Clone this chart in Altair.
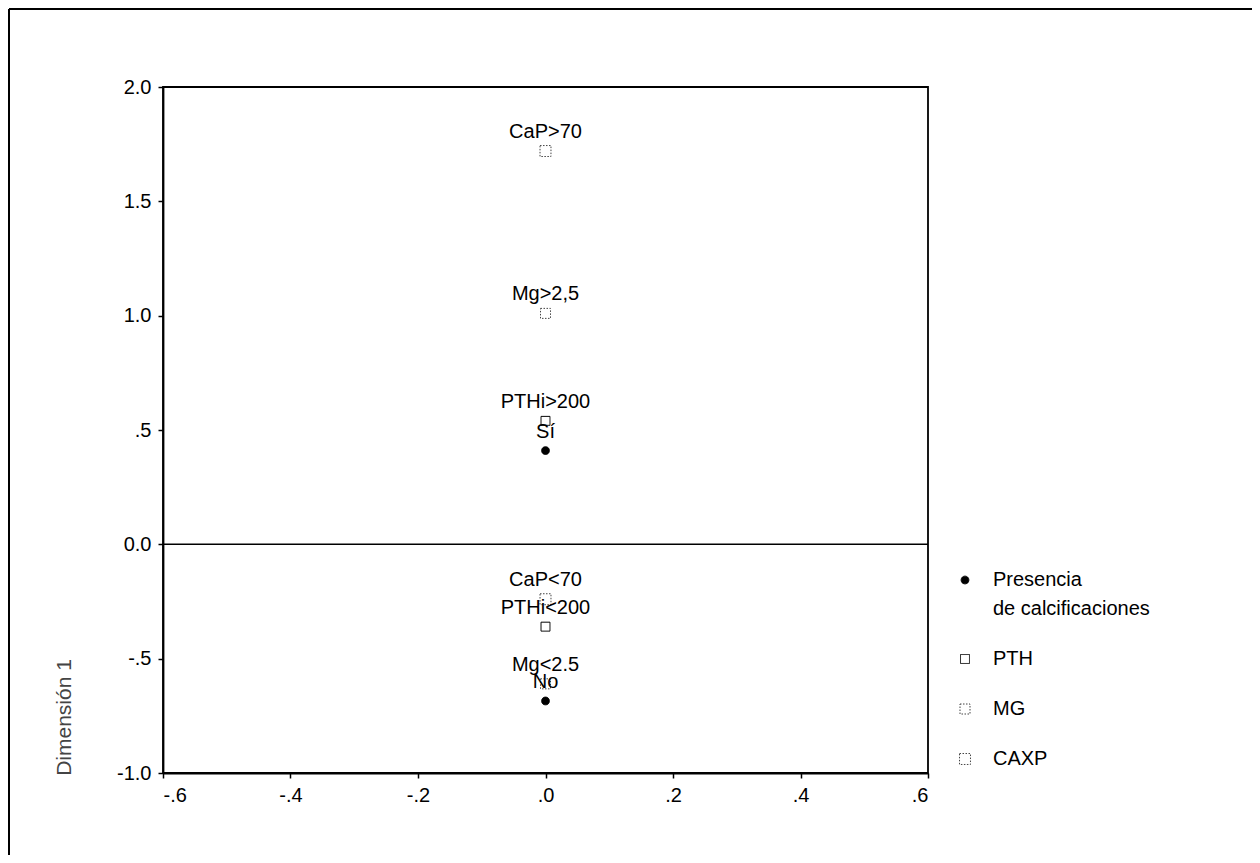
import altair as alt
import pandas as pd

# Data
labels = ["CaP>70", "Mg>2,5", "PTHi>200", "Sí", "CaP<70", "PTHi<200", "Mg<2.5", "No"]
groups = ["CAXP", "MG", "PTH", "Presencia de calcificaciones",
          "CAXP", "PTH", "MG", "Presencia de calcificaciones"]
dim2 = [0.0, 0.0, 0.0, 0.0, 0.0, 0.0, 0.0, 0.0]
dim1 = [1.72, 1.01, 0.54, 0.41, -0.24, -0.36, -0.61, -0.685]

group_order = ["Presencia de calcificaciones", "PTH", "MG", "CAXP"]
x_ticks = [-0.6, -0.4, -0.2, 0.0, 0.2, 0.4, 0.6]
y_ticks = [-1.0, -0.5, 0.0, 0.5, 1.0, 1.5, 2.0]

df = pd.DataFrame({"label": labels, "grupo": groups, "dim2": dim2, "dim1": dim1})

FONT = "Liberation Sans"
FS = 20

xenc = alt.X("dim2:Q",
             scale=alt.Scale(domain=[-0.6, 0.6], nice=False, zero=False),
             axis=alt.Axis(values=x_ticks, title=None, grid=False,
                           labelExpr="replace(replace(format(datum.value, '.1f'), '0.', '.'), '\u2212', '-')"))
yenc = alt.Y("dim1:Q",
             scale=alt.Scale(domain=[-1.0, 2.0], nice=False, zero=False),
             axis=alt.Axis(values=y_ticks, title="Dimensión 1", grid=False,
                           titleX=-89, titleY=630, titleAngle=270,
                           titleFontWeight="normal", titleFontSize=21, titleColor="#444",
                           titleFont=FONT,
                           labelExpr="datum.value == 0 ? '0.0' : replace(replace(format(datum.value, '.1f'), '0.', '.'), '\u2212', '-')"))

leg = alt.Legend(title=None, orient="none", legendX=792, legendY=483,
                 labelFontSize=FS, labelFont=FONT, labelColor="black",
                 labelOffset=18, rowPadding=30, padding=0, symbolStrokeWidth=1,
                 labelLimit=300,
                 labelExpr="datum.label == 'Presencia de calcificaciones' ? ['Presencia', 'de calcificaciones'] : datum.label")

sc = lambda rng: alt.Scale(domain=group_order, range=rng)

points = alt.Chart(df).mark_point(opacity=1, strokeWidth=1).encode(
    x=xenc, y=yenc,
    shape=alt.Shape("grupo:N", scale=sc(["circle", "square", "square", "square"]), legend=leg),
    fill=alt.Fill("grupo:N", scale=sc(["black", "white", "white", "white"]), legend=leg),
    stroke=alt.Stroke("grupo:N", scale=sc(["black", "black", "#444", "#444"]), legend=leg),
    strokeDash=alt.StrokeDash("grupo:N", scale=sc([[1, 0], [1, 0], [1.5, 1.5], [1.5, 1.5]]), legend=leg),
    size=alt.Size("grupo:N", scale=sc([60, 120, 120, 120]), legend=leg),
)

texts = alt.Chart(df).mark_text(dy=-19, fontSize=FS, font=FONT, color="black").encode(
    x="dim2:Q", y="dim1:Q", text="label:N"
)

zero = alt.Chart(pd.DataFrame({"dim1": [0.0]})).mark_rule(color="black", strokeWidth=1.5).encode(
    y="dim1:Q"
)

one = pd.DataFrame({"a": [0]})
frame_top = alt.Chart(one).mark_rule(color="black", strokeWidth=2).encode(
    x=alt.value(-154), x2=alt.value(1300), y=alt.value(-78))
frame_left = alt.Chart(one).mark_rule(color="black", strokeWidth=2).encode(
    x=alt.value(-154), y=alt.value(-78), y2=alt.value(900))

chart = alt.layer(zero, points, texts, frame_top, frame_left).properties(
    width=765, height=686,
    autosize=alt.AutoSizeParams(type="none"),
    padding={"left": 155, "top": 79, "right": 324, "bottom": 82},
).configure(
    style={"guide-label": {"lineHeight": 29}}
).configure_view(
    stroke="black", strokeWidth=1.8
).configure_axis(
    domainColor="black", domainWidth=1.8, tickColor="black", tickSize=5, tickWidth=1.5,
    labelFontSize=FS, labelFont=FONT, labelColor="black", labelPadding=7
)

chart.save("out.html", embed_options={"renderer": "svg", "actions": False})
